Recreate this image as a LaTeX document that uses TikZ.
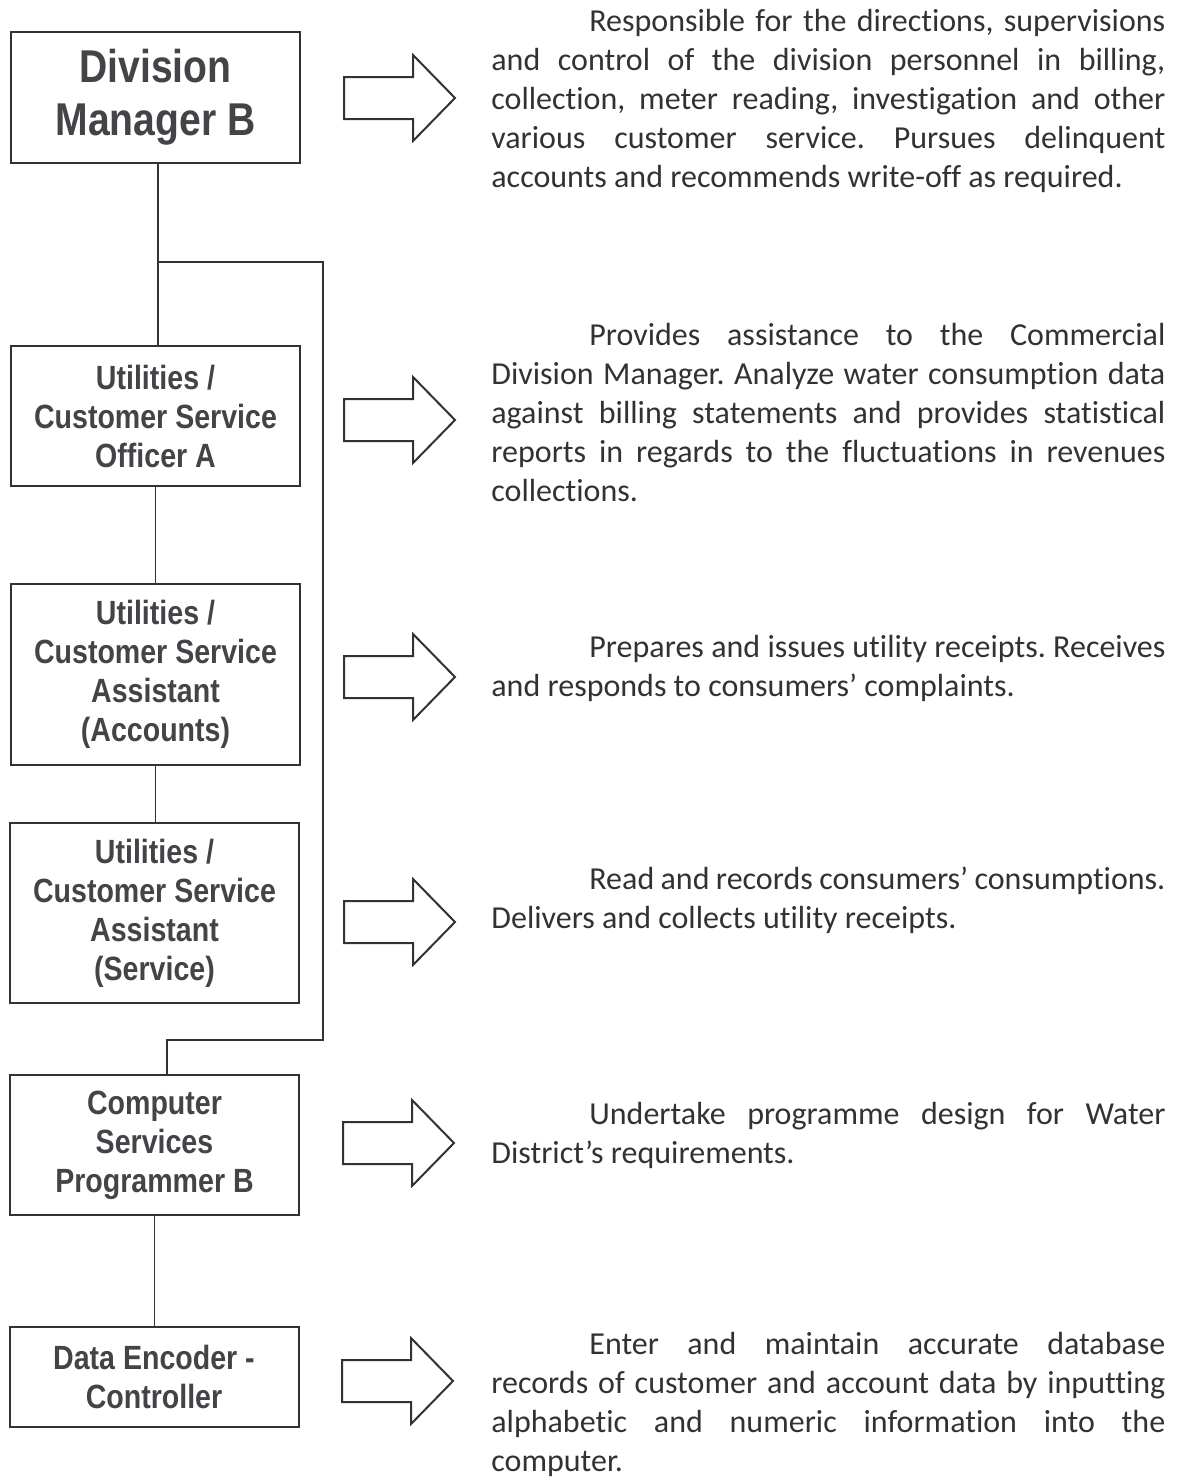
\documentclass[tikz,border=0pt]{standalone}
\usepackage{fontspec}
\setmainfont{Carlito}[Ligatures={TeX,NoCommon,NoContextual}]
\newfontfamily\postfont{Liberation Sans}[FakeStretch=0.85]
\definecolor{inkGray}{RGB}{50,50,54}
\definecolor{postGray}{RGB}{68,68,72}
\hbadness=10000
\frenchspacing
\begin{document}
\begin{tikzpicture}[x=0.5pt, y=-0.5pt,
  postStyle/.style={draw=inkGray, line width=1pt, minimum width=144.5pt, inner sep=0pt, align=center, text=postGray, font=\postfont\bfseries\fontsize{16.8}{19.5}\selectfont},
  titleStyle/.style={postStyle, font=\postfont\bfseries\fontsize{23}{26.5}\selectfont},
  dutyStyle/.style={anchor=north west, inner sep=0pt, text width=337pt, align=justify, text=inkGray, font=\fontsize{16}{19.5}\selectfont},
  linkStyle/.style={draw=inkGray, line width=0.8pt},
  arrowStyle/.style={draw=inkGray, line width=1pt, line join=miter, fill=white},
  pics/bigArrow/.style={code={\draw [arrowStyle] (0,-21) -- (69,-21) -- (69,-43) -- (111,0) -- (69,43) -- (69,21) -- (0,21) -- cycle;}}
]
\useasboundingbox (0,0) rectangle (1180,1478);

\node [titleStyle, minimum height=65.5pt] (divMgr)     at (155.5, 97.5)  {Division\\Manager B};
\node [postStyle, minimum height=70pt]    (csOfficer)  at (155.5, 416)   {Utilities /\\Customer Service\\Officer A};
\node [postStyle, minimum height=90.5pt]  (csAccounts) at (155.5, 674.5) {Utilities /\\Customer Service\\Assistant\\(Accounts)};
\node [postStyle, minimum height=90pt]    (csService)  at (154.5, 913)   {Utilities /\\Customer Service\\Assistant\\(Service)};
\node [postStyle, minimum height=70pt]    (programmer) at (154.5, 1145)  {Computer\\Services\\Programmer B};
\node [postStyle, minimum height=50pt]    (encoder)    at (154, 1377)    {Data Encoder -\\Controller};

\coordinate (split)   at (158, 262);
\coordinate (railTop) at (323, 262);
\coordinate (railEnd) at (323, 1040);
\coordinate (drop)    at (167, 1040);

\draw [linkStyle] (divMgr.south -| split) -- (csOfficer.north -| split);
\draw [linkStyle] (split) -- (railTop) -- (railEnd) -- (drop) -- (drop |- programmer.north);
\draw [linkStyle] (csOfficer.south) -- (csAccounts.north);
\draw [linkStyle] (csAccounts.south) -- (csAccounts.south |- csService.north);
\draw [linkStyle] (programmer.south) -- (programmer.south |- encoder.north);

\pic at (344, 98)   {bigArrow};
\pic at (344, 420)  {bigArrow};
\pic at (344, 677)  {bigArrow};
\pic at (344, 922)  {bigArrow};
\pic at (343, 1143) {bigArrow};
\pic at (342, 1381) {bigArrow};

\node [dutyStyle] (dutyMgr) at (491, 9) {\noindent\hspace*{49pt}Responsible for the directions, supervisions\linebreak and control of the division personnel in billing,\linebreak collection, meter reading, investigation and other\linebreak various customer service. Pursues delinquent\linebreak accounts and recommends write-off as required.};
\node [dutyStyle] (dutyOfficer) at (491, 323) {\noindent\hspace*{49pt}Provides assistance to the Commercial\linebreak Division Manager. Analyze water consumption data\linebreak against billing statements and provides statistical\linebreak reports in regards to the fluctuations in revenues\linebreak collections.};
\node [dutyStyle] (dutyAccounts) at (491, 635) {\noindent\hspace*{49pt}Prepares and issues utility receipts. Receives\linebreak and responds to consumers' complaints.};
\node [dutyStyle] (dutyService) at (491, 867) {\noindent\hspace*{49pt}Read and records consumers' consumptions.\linebreak Delivers and collects utility receipts.};
\node [dutyStyle] (dutyProg) at (491, 1102) {\noindent\hspace*{49pt}Undertake programme design for Water\linebreak District's requirements.};
\node [dutyStyle] (dutyEncoder) at (491, 1332) {\noindent\hspace*{49pt}Enter and maintain accurate database\linebreak records of customer and account data by inputting\linebreak alphabetic and numeric information into the\linebreak computer.};
\end{tikzpicture}
\end{document}
